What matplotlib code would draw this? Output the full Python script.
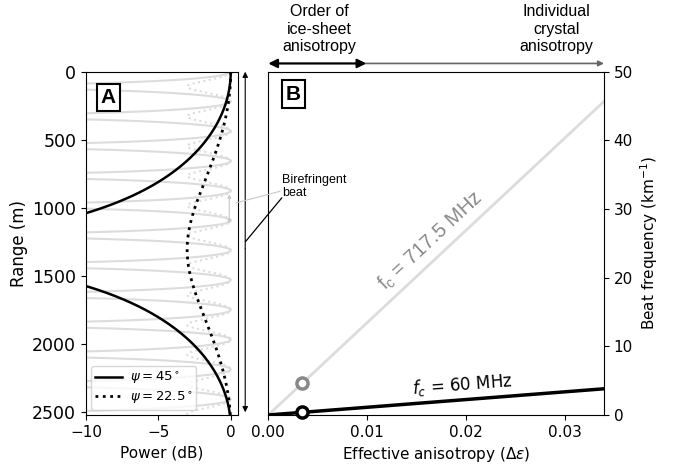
import numpy as np
import matplotlib
matplotlib.use("Agg")
import matplotlib.pyplot as plt

# ---------------- data ----------------
freqs_mhz = [60.0, 717.5]          # centre frequencies
beat_length_m = [2612.0, 218.5]    # beat (null-to-null) length at the marked anisotropy
psi_deg = [45.0, 22.5]             # polarisation angles
range_max_m = 2520.0

eps_line = [0.0, 0.034]            # effective anisotropy (x of panel B lines)
beat_60 = [0.0, 3.83]              # beat frequency, 60 MHz (km^-1)
beat_717 = [0.0, 45.8]             # beat frequency, 717.5 MHz (km^-1)
marker_eps = [0.0034, 0.0034]
marker_beat = [0.38, 4.6]

a_xticks = [-10, -5, 0]
a_yticks = [0, 500, 1000, 1500, 2000, 2500]
b_xticks = [0.00, 0.01, 0.02, 0.03]
b_yticks = [0, 10, 20, 30, 40, 50]

ANN = ["Liberation Sans", "Arial", "DejaVu Sans"]

# ---------------- figure ----------------
fig = plt.figure(figsize=(6.78, 4.71), dpi=100)
axA = fig.add_axes([0.1268, 0.1189, 0.2242, 0.7289])
axB = fig.add_axes([0.3957, 0.1189, 0.4951, 0.7289])
axA.set_zorder(3)

z = np.linspace(0.0, range_max_m, 8000)


def power_db(L, psi):
    s = np.sin(np.deg2rad(2 * psi)) ** 2
    p = 1.0 - s * np.sin(np.pi * z / L) ** 2
    return 10 * np.log10(np.maximum(p, 1e-8))


light = "#dcdcdc"
# high-frequency (light grey) curves
axA.plot(power_db(beat_length_m[1], psi_deg[0]), z, color=light, lw=1.5, zorder=1)
axA.plot(power_db(beat_length_m[1], psi_deg[1]), z, color=light, lw=1.5, ls=":", zorder=1)
# low-frequency (black) curves
axA.plot(power_db(beat_length_m[0], psi_deg[0]), z, color="k", lw=1.8, zorder=3,
         label=r"$\psi = 45^\circ$")
axA.plot(power_db(beat_length_m[0], psi_deg[1]), z, color="k", lw=2.0, ls=":", zorder=3,
         label=r"$\psi = 22.5^\circ$")

axA.set_xlim(-10, 0.5)
axA.set_ylim(range_max_m, 0)
axA.set_xticks(a_xticks)
axA.set_xticklabels(["\u221210", "\u22125", "0"])
axA.set_yticks(a_yticks)
axA.tick_params(axis="x", labelsize=11)
axA.tick_params(axis="y", labelsize=12.5)
axA.set_xlabel("Power (dB)", fontsize=11)
axA.set_ylabel("Range (m)", fontsize=12, labelpad=3)
leg = axA.legend(loc="lower left", fontsize=9.5, handlelength=2.0, borderpad=0.3,
                 labelspacing=0.25, handletextpad=0.6, borderaxespad=0.4,
                 framealpha=0.8)

axA.text(0.147, 0.925, "A", transform=axA.transAxes, ha="center", va="center",
         fontsize=15, fontweight="bold", family=ANN,
         bbox=dict(boxstyle="square,pad=0.2", fc="white", ec="k", lw=1.5), zorder=5)

# long vertical double arrow at the right of panel A
axA.annotate("", xy=(1.0, 0), xytext=(1.0, 1300), annotation_clip=False,
             arrowprops=dict(arrowstyle="-|>", lw=0.8, color="k", mutation_scale=8,
                             shrinkA=0, shrinkB=0))
axA.annotate("", xy=(1.0, 2500), xytext=(1.0, 1300), annotation_clip=False,
             arrowprops=dict(arrowstyle="-|>", lw=0.8, color="k", mutation_scale=8,
                             shrinkA=0, shrinkB=0))
# small beat arrow
axA.annotate("", xy=(-0.1, 900), xytext=(-0.1, 1115), annotation_clip=False,
             arrowprops=dict(arrowstyle="<|-|>", lw=0.8, color="#c8c8c8",
                             mutation_scale=5, shrinkA=0, shrinkB=0))
axA.plot([0.37, 3.4], [963, 878], color="#c8c8c8", lw=0.8, clip_on=False, zorder=4)
axA.plot([3.52, 1.03], [927, 1246], color="k", lw=0.9, clip_on=False, zorder=4)
axA.text(3.55, 843, "Birefringent\nbeat", fontsize=9, family=ANN, ha="left",
         va="center", linespacing=1.05)

# ---------------- panel B ----------------
axB.plot(eps_line, beat_717, color=light, lw=2.0, zorder=1)
axB.plot(eps_line, beat_60, color="k", lw=2.5, zorder=2)
axB.plot(marker_eps[1], marker_beat[1], "o", ms=8, mfc="white", mec="#888888",
         mew=2.5, zorder=3, clip_on=False)
axB.plot(marker_eps[0], marker_beat[0], "o", ms=8, mfc="white", mec="k",
         mew=2.5, zorder=3, clip_on=False)

axB.set_xlim(0, 0.0339)
axB.set_ylim(0, 50)
axB.set_xticks(b_xticks)
axB.set_xticklabels(["0.00", "0.01", "0.02", "0.03"])
axB.set_yticks(b_yticks)
axB.yaxis.tick_right()
axB.yaxis.set_label_position("right")
axB.tick_params(labelsize=11)
axB.set_xlabel(r"Effective anisotropy ($\Delta\varepsilon$)", fontsize=11)
axB.set_ylabel(r"Beat frequency (km$^{-1}$)", fontsize=11)

axB.text(0.075, 0.935, "B", transform=axB.transAxes, ha="center", va="center",
         fontsize=15, fontweight="bold", family=ANN,
         bbox=dict(boxstyle="square,pad=0.2", fc="white", ec="k", lw=1.5), zorder=5)

axB.text(0.0164, 25.3, r"$\mathregular{f_c}$ = 717.5 MHz", color="#888888",
         fontsize=14.5, family=ANN, rotation=43, ha="center", va="center",
         rotation_mode="anchor")
axB.text(0.01957, 4.4, r"$f_c$ = 60 MHz", color="k", fontsize=12,
         rotation=4.5, ha="center", va="center", rotation_mode="anchor")

# top arrows
axB.annotate("", xy=(0.0339, 51.2), xytext=(0.0098, 51.2), annotation_clip=False,
             arrowprops=dict(arrowstyle="-|>", lw=1.2, color="#666666",
                             mutation_scale=8, shrinkA=0, shrinkB=0))
axB.annotate("", xy=(0.0, 51.2), xytext=(0.0099, 51.2), annotation_clip=False,
             arrowprops=dict(arrowstyle="<|-|>", lw=1.6, color="k",
                             mutation_scale=13, shrinkA=0, shrinkB=0))
axB.text(0.0052, 52.55, "Order of\nice-sheet\nanisotropy", fontsize=11.5, family=ANN,
         ha="center", va="bottom", linespacing=1.2)
axB.text(0.0291, 52.55, "Individual\ncrystal\nanisotropy", fontsize=11.5, family=ANN,
         ha="center", va="bottom", linespacing=1.2)

fig.savefig("out.png", dpi=100)
